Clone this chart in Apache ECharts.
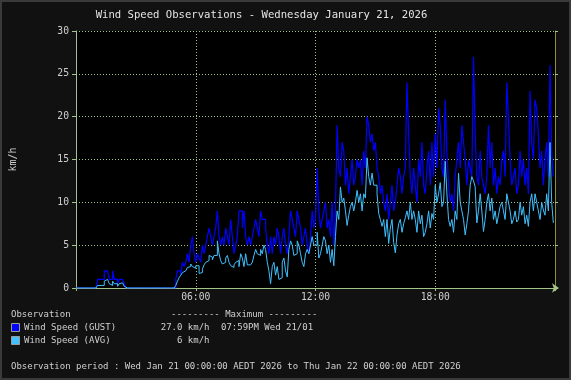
<!DOCTYPE html>
<html>
<head>
<meta charset="utf-8">
<script src="https://cdn.jsdelivr.net/npm/echarts@6/dist/echarts.min.js"></script>
<style>
html,body{margin:0;padding:0;background:#111;}
#chart{width:571px;height:380px;}
</style>
</head>
<body>
<div id="chart"></div>
<script>
// Sampling: one reading every 5 minutes from 00:00 to 23:55 (km/h)
const sampleMinutes = 5;
const gustKmh = [
  // 00h
  0,0,0,0,0,0,0,0,0,0,0,0,
  // 01h
  0,1,1,1,1,2,2,2,1,1,2,1,
  // 02h
  1,0.5,1,1,1,0.5,0,0,0,0,0,0,
  // 03h
  0,0,0,0,0,0,0,0,0,0,0,0,
  // 04h
  0,0,0,0,0,0,0,0,0,0,0,0,
  // 05h
  1,2,2,1.5,3,2.5,3,4,3,5,6,4,
  // 06h
  3,4,3.5,3,5,4,5,6,7,6,5,6,
  // 07h
  7,9,6,5,6,5,7,6,5,8,6,4,
  // 08h
  5,6,9,9,7,9,6,5,6,5,6,7,
  // 09h
  8,7,6,9,8,8,7,5,4,6,4,6,
  // 10h
  5,7,6,4,6,7,5,4,6,9,8,7,
  // 11h
  6,9,8,7,5,6,7,5,4,6,9,7,
  // 12h
  8,14,9,7,8,9,10,7,8,6,10,5,
  // 13h
  9,19,14,13,17,16,12,14,11,13,15,12,
  // 14h
  13,15,14,15,12,16,14,20,19,17,18,16,
  // 15h
  17,14,13,11,12,10,9,11,8,10,12,9,
  // 16h
  10,12,14,13,11,13,14,24,18,13,11,14,
  // 17h
  12,10,15,13,17,12,11,14,16,12,17,13,
  // 18h
  18,14,21,19,14,13,22,16,12,10,11,9,
  // 19h
  13,15,17,14,19,17,15,12,15,14,13,27,
  // 20h
  18,13,12,16,13,12,11,13,19,14,17,12,
  // 21h
  14,11,13,12,15,16,13,24,20,15,12,13,
  // 22h
  14,11,12,16,13,15,12,14,11,23,17,15,
  // 23h
  22,21,18,14,16,12,15,17,13,26,16,13
];
const avgKmh = [
  // 00h
  0,0,0,0,0,0,0,0,0,0,0,0,
  // 01h
  0,0.3,0.3,0.5,0.3,0.8,1,0.8,0.5,0.3,0.8,0.5,
  // 02h
  0.5,0.2,0.5,0.6,0.5,0.2,0,0,0,0,0,0,
  // 03h
  0,0,0,0,0,0,0,0,0,0,0,0,
  // 04h
  0,0,0,0,0,0,0,0,0,0,0,0,
  // 05h
  0.3,0.8,1.2,1.5,1.8,2,2.2,2.4,2.5,2.8,2.5,2.3,
  // 06h
  2.6,2.6,1.7,1.8,2.2,2.7,3,3.2,3.8,3.6,3.3,3.8,
  // 07h
  3.8,5.5,4,3.2,2.8,3,3.5,3.8,3,2.6,2.4,2.7,
  // 08h
  3,3.2,2.5,4,3.5,2.5,4,2.7,2.7,2.7,3,3.8,
  // 09h
  4.5,4,3.8,4.5,4,5,4.5,3,2,0.5,2.5,3,
  // 10h
  1.5,2.5,1,1.2,3,3.5,2,1.3,4.5,5.5,5,3.8,
  // 11h
  4,5.5,5,4,3,2.5,4,4.5,4,5,6,5,
  // 12h
  5,6.5,3.5,4,5,6,5.5,4,5,3,4.5,2.6,
  // 13h
  6,9,8,11.8,10,10.5,9,7.3,8.5,9.5,10,9,
  // 14h
  10,11.4,10,11,9,11,10.5,15.2,13,12,13.4,12,
  // 15h
  12,11,8.7,8,7.2,8,6,8,5.2,7,8,5.3,
  // 16h
  4.1,6.2,7.5,8,6.5,7.5,8.2,9,8,10,8,9,
  // 17h
  8,6.5,9,7.5,8.5,6,6.5,7.5,9,7,8.7,8,
  // 18h
  12,10,11,12.3,9.5,10,14.8,11,8,7.2,8,6.5,
  // 19h
  9,8,13.4,10,9,8,6.2,7.5,9,12,13,12.5,
  // 20h
  11.8,7.6,9,11,9,6.6,8,10,11,9,10.5,8,
  // 21h
  9,7.5,8.5,9.5,10,9,8,11,10,9,7.5,8,
  // 22h
  9,7.7,8,10,8.5,9.5,7.5,8.5,7.2,10,11,9,
  // 23h
  11,10,9,8,10,9.1,8.5,11,9,17,10,7.6
];
const xTickLabels = ['', '06:00', '12:00', '18:00', ''];
const yTicks = [0, 5, 10, 15, 20, 25, 30];
const titleText = 'Wind Speed Observations - Wednesday January 21, 2026';
const legendHeader = ['Observation', '--------- Maximum ---------'];
const seriesNames = ['Wind Speed (GUST)', 'Wind Speed (AVG)'];
const maxValues = ['27.0 km/h', '6 km/h'];
const maxTimes = ['07:59PM Wed 21/01', ''];
const periodText = 'Observation period : Wed Jan 21 00:00:00 AEDT 2026 to Thu Jan 22 00:00:00 AEDT 2026';

const gustColor = '#0000ff';
const avgColor = '#40c0ff';
const gridColor = '#a3c489';
const textColor = '#d0d0d0';
const mono = '"DejaVu Sans Mono", "Liberation Mono", monospace';

const toPairs = arr => arr.map((v, i) => [i * sampleMinutes, v]);

const chart = echarts.init(document.getElementById('chart'), null, {renderer: 'canvas'});
const legendFont = '9px ' + mono;
const option = {
  animation: false,
  backgroundColor: '#111111',
  grid: {left: 75, right: 16, top: 31, bottom: 92, show: true, backgroundColor: '#000000', borderWidth: 0},
  xAxis: {
    type: 'value', min: 0, max: 1440, interval: 360,
    axisLine: {show: true, lineStyle: {color: gridColor, width: 1}, symbol: ['none', 'arrow'], symbolSize: [7, 7], symbolOffset: [0, 4]},
    axisTick: {show: true, length: 3, lineStyle: {color: gridColor}},
    axisLabel: {
      color: textColor, fontFamily: mono, fontSize: 9.7, margin: 4,
      formatter: v => xTickLabels[Math.round(v / 360)] || ''
    },
    splitLine: {show: true, lineStyle: {color: gridColor, type: [1, 2], width: 1}}
  },
  yAxis: [{
    type: 'value', min: 0, max: 30, interval: 5,
    name: 'km/h', nameLocation: 'middle', nameRotate: 90, nameGap: 58,
    nameTextStyle: {color: textColor, fontFamily: mono, fontSize: 10},
    axisLine: {show: true, lineStyle: {color: gridColor, width: 1}},
    axisTick: {show: true, length: 4, lineStyle: {color: gridColor}},
    axisLabel: {color: textColor, fontFamily: mono, fontSize: 9.7, margin: 7,
      formatter: v => yTicks.includes(v) ? String(v) : ''},
    splitLine: {show: true, lineStyle: {color: gridColor, type: [1, 2], width: 1}}
  }, {
    type: 'value', min: 0, max: 30, interval: 5, position: 'right',
    axisLine: {show: true, lineStyle: {color: '#8e8e2e', width: 1}},
    axisTick: {show: true, length: 3, lineStyle: {color: gridColor}},
    axisLabel: {show: false},
    splitLine: {show: false}
  }],
  series: [{
    name: seriesNames[0], type: 'line', step: 'end', showSymbol: false, symbol: 'none',
    data: toPairs(gustKmh), lineStyle: {color: gustColor, width: 1.2}, z: 2
  }, {
    name: seriesNames[1], type: 'line', step: 'end', showSymbol: false, symbol: 'none',
    data: toPairs(avgKmh), lineStyle: {color: avgColor, width: 1}, z: 3
  }],
  graphic: [
    {type: 'rect', shape: {x: 1, y: 1, width: 569, height: 378}, style: {fill: null, stroke: '#3a3a3a', lineWidth: 2}, silent: true},
    {type: 'text', x: 261.5, y: 15, style: {text: titleText, font: '10.6px ' + mono, fill: '#e4e4e4', align: 'center', verticalAlign: 'middle'}},
    {type: 'text', x: 11, y: 315, style: {text: legendHeader[0], font: legendFont, fill: textColor, verticalAlign: 'middle'}},
    {type: 'text', x: 171, y: 315, style: {text: legendHeader[1], font: legendFont, fill: textColor, verticalAlign: 'middle'}},
    {type: 'rect', shape: {x: 11.5, y: 323.5, width: 8, height: 8}, style: {fill: gustColor, stroke: '#9a9a9a', lineWidth: 1}},
    {type: 'text', x: 24, y: 327.5, style: {text: seriesNames[0], font: legendFont, fill: textColor, verticalAlign: 'middle'}},
    {type: 'text', x: 209.5, y: 327.5, style: {text: maxValues[0], font: legendFont, fill: textColor, align: 'right', verticalAlign: 'middle'}},
    {type: 'text', x: 221, y: 327.5, style: {text: maxTimes[0], font: legendFont, fill: textColor, verticalAlign: 'middle'}},
    {type: 'rect', shape: {x: 11.5, y: 336.5, width: 8, height: 8}, style: {fill: avgColor, stroke: '#9a9a9a', lineWidth: 1}},
    {type: 'text', x: 24, y: 340.5, style: {text: seriesNames[1], font: legendFont, fill: textColor, verticalAlign: 'middle'}},
    {type: 'text', x: 209.5, y: 340.5, style: {text: maxValues[1], font: legendFont, fill: textColor, align: 'right', verticalAlign: 'middle'}},
    {type: 'text', x: 11, y: 367, style: {text: periodText, font: legendFont, fill: textColor, verticalAlign: 'middle'}}
  ]
};
chart.setOption(option);
</script>
</body>
</html>
